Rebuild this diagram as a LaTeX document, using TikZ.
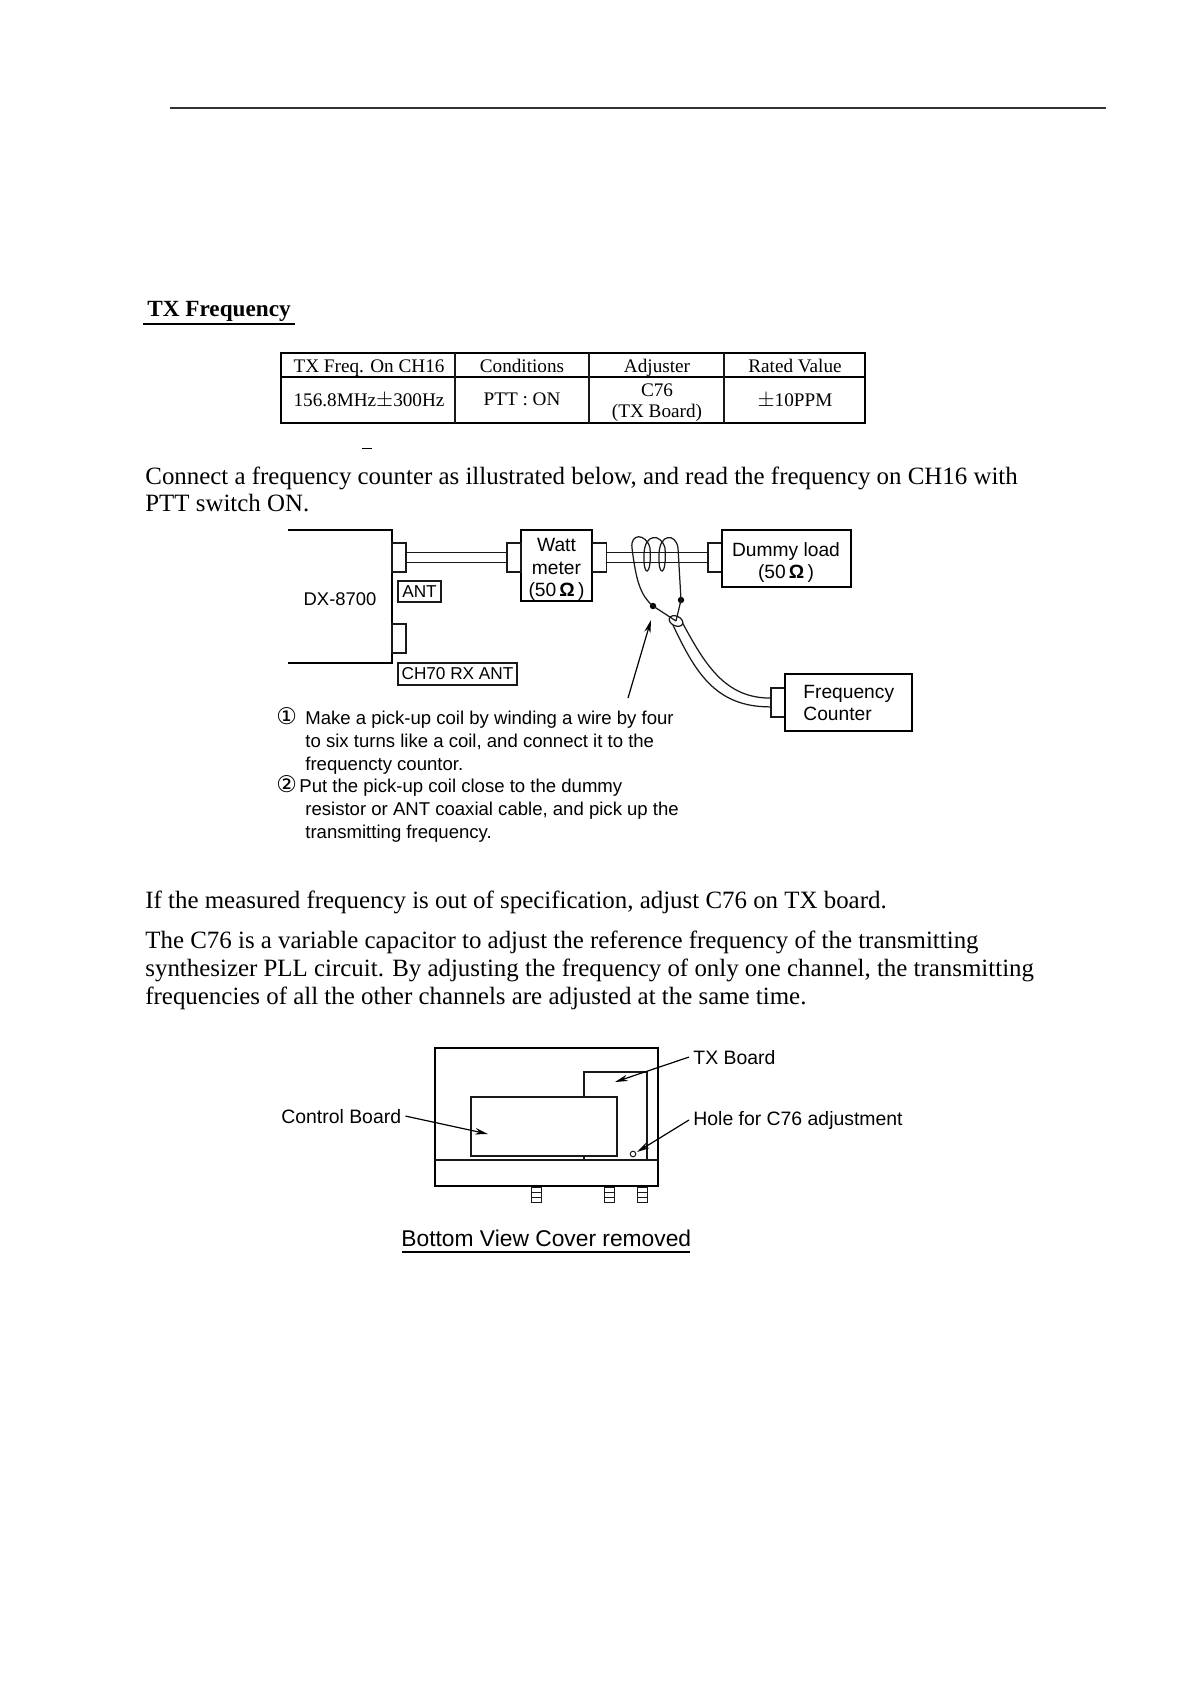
\documentclass[tikz,border=0pt]{standalone}
\usepackage{fontspec}
\setmainfont{Liberation Serif}
\newfontfamily\arialf{Liberation Sans}
\newfontfamily\symf{DejaVu Sans}
\usetikzlibrary{arrows.meta}
\newcommand{\fiftyohm}{(50\,{\bfseries Ω}\,)}
\tikzset{
  x=0.5pt,y=-0.5pt,
  ln/.style={draw=black!90,line width=0.62pt},
  heavy/.style={draw=black,line width=0.95pt},
  boxn/.style={draw=black,line width=0.95pt,inner sep=0pt},
  boxtext/.style={anchor=base,inner sep=0pt,font=\arialf\fontsize{9.6}{11.5}\selectfont},
  conn/.style={draw=black!90,line width=0.62pt,inner sep=0pt,minimum width=7pt,minimum height=14.5pt,fill=white},
  tag/.style={draw=black!90,line width=0.65pt,inner sep=0pt,font=\arialf\fontsize{8.6}{10}\selectfont},
  body/.style={anchor=base west,inner sep=0pt,font=\fontsize{12.45}{14}\selectfont},
  tcell/.style={anchor=base,inner sep=0pt,font=\fontsize{9.6}{11}\selectfont},
  note/.style={anchor=base west,inner sep=0pt,font=\arialf\fontsize{9.28}{11}\selectfont},
  num/.style={anchor=base west,inner sep=0pt,font=\symf\fontsize{11.5}{12}\selectfont},
  lab/.style={anchor=base west,inner sep=0pt,font=\arialf\fontsize{9.7}{11}\selectfont},
  pt/.style={circle,fill=black,inner sep=0pt,minimum size=3.2pt},
  arr/.style={draw=black,line width=0.6pt,-{Stealth[length=6.5pt,width=3.2pt]}},
}
\begin{document}
\begin{tikzpicture}
\useasboundingbox (0,0) rectangle (1190,1684);
\draw[line width=0.6pt,black!80] (170,108) -- (1106,108);
% heading
\node[body,font=\bfseries\fontsize{11.6}{14}\selectfont] (head) at (147,317) {TX Frequency};
\draw[line width=0.8pt] (143,324) -- (295,324);
% table
\draw[heavy] (281,353) rectangle (865,423);
\draw[heavy] (281,377) -- (865,377);
\draw[ln] (455,353) -- (455,423) (589,353) -- (589,423) (724,353) -- (724,423);
\node[tcell] (t1) at (369,373) {TX Freq. On CH16};
\node[tcell] (t2) at (522,373) {Conditions};
\node[tcell] (t3) at (657,373) {Adjuster};
\node[tcell] (t4) at (795,373) {Rated Value};
\node[tcell] (t5) at (369,407) {156.8MHz{\fontsize{10.5}{11}\selectfont $\pm$}300Hz};
\node[tcell] (t6) at (522,406) {PTT : ON};
\node[tcell] (t7) at (657,397) {C76};
\node[tcell] (t8) at (657,417) {(TX Board)};
\node[tcell] (t9) at (795,407) {{\fontsize{11}{11}\selectfont $\pm$}10PPM};
\draw[line width=0.5pt] (362,448) -- (372,448);
% paragraph 1
\node[body] (p1) at (145,484.5) {Connect a frequency counter as illustrated below, and read the frequency on CH16 with};
\node[body] (p2) at (145,511.5) {PTT switch ON.};
% device
\draw[heavy] (288,530) -- (392,530) -- (392,663) -- (288,663);
\node[anchor=center,inner sep=0pt,font=\arialf\fontsize{9.2}{11}\selectfont] (dx) at (340,599) {DX-8700};
\node[conn] (c1) at (399,557.5) {};
\node[conn] (c2) at (399,638.5) {};
\node[tag,minimum width=21.5pt,minimum height=10.5pt] (ant) at (419.5,591.5) {ANT};
\node[tag,minimum width=59.5pt,minimum height=11pt] (ch70) at (457.5,674) {CH70 RX ANT};
\node[boxn,minimum width=35.5pt,minimum height=35.5pt] (watt) at (556.5,565.5) {};
\node[boxtext] (w1) at (556.5,551) {Watt};
\node[boxtext] (w2) at (556.5,574) {meter};
\node[boxtext] (w3) at (556.5,596) {\fiftyohm};
\node[conn] (c3) at (514,557.5) {};
\node[conn] (c4) at (599.5,557.5) {};
\node[conn] (c5) at (715,557.5) {};
\node[boxn,minimum width=64.5pt,minimum height=28.5pt] (dummy) at (786.5,558.5) {};
\node[boxtext] (d1t) at (786,556) {Dummy load};
\node[boxtext] (d2t) at (786,578) {\fiftyohm};
\node[conn] (c6) at (778,702.5) {};
\node[boxn,minimum width=63.5pt,minimum height=28.5pt] (fc) at (848.5,702.5) {};
\node[boxtext,anchor=base west] (f1t) at (803,698) {Frequency};
\node[boxtext,anchor=base west] (f2t) at (803,720) {Counter};
% cables
\draw[ln] ([yshift=2.5pt]c1.east) -- ([yshift=2.5pt]c3.west);
\draw[ln] ([yshift=-2.5pt]c1.east) -- ([yshift=-2.5pt]c3.west);
\draw[ln] ([yshift=2.5pt]c4.east) -- ([yshift=2.5pt]c5.west);
\draw[ln] ([yshift=-2.5pt]c4.east) -- ([yshift=-2.5pt]c5.west);
% pick-up coil
\node[pt] (d1) at (653,606) {};
\node[pt] (d2) at (681,600) {};
\coordinate (ce) at (676,621);
\draw[ln] (672,623) .. controls (695,672) and (715,707) .. ([yshift=-2.2pt]c6.west);
\draw[ln] (681,620) .. controls (705,665) and (725,698) .. ([yshift=2.2pt]c6.west);
\draw[ln,fill=white] (ce) ellipse [x radius=3.6pt,y radius=2.4pt,rotate=-25];
\draw[ln] (ce) -- (d1.center) .. controls (640,595) and (636,580) .. (632,548)
  .. controls (630,533) and (646,533) .. (650,548)
  .. controls (652,577) and (643,578) .. (644,555)
  .. controls (644,533) and (661,533) .. (665,548)
  .. controls (667,577) and (658,578) .. (659,555)
  .. controls (659,533) and (676,533) .. (678,548)
  -- (d2.center) -- (ce);
\coordinate (atail) at (628,698);
\coordinate (ahead) at (651,620);
\draw[arr] (atail) -- (ahead);
% notes
\node[num] (n1) at (276,724) {①};
\node[note] (n1a) at (305,724) {Make a pick-up coil by winding a wire by four};
\node[note] (n1b) at (305,747) {to six turns like a coil, and connect it to the};
\node[note] (n1c) at (305,770) {frequencty countor.};
\node[num] (n2) at (276,792.5) {②};
\node[note] (n2a) at (299,792.5) {Put the pick-up coil close to the dummy};
\node[note] (n2b) at (305,815) {resistor or ANT coaxial cable, and pick up the};
\node[note] (n2c) at (305,838) {transmitting frequency.};
% paragraphs
\node[body] (p3) at (145,908) {If the measured frequency is out of specification, adjust C76 on TX board.};
\node[body] (p4) at (145,948) {The C76 is a variable capacitor to adjust the reference frequency of the transmitting};
\node[body] (p5) at (145,976) {synthesizer PLL circuit. By adjusting the frequency of only one channel, the transmitting};
\node[body] (p6) at (145,1004) {frequencies of all the other channels are adjusted at the same time.};
% bottom view
\draw[heavy] (435,1048) rectangle (658,1186);
\draw[ln] (435,1160) -- (658,1160);
\draw[ln,line width=0.7pt] (584,1097) -- (584,1072) -- (647,1072) -- (647,1160);
\draw[ln] (584,1156) -- (584,1160);
\node[draw=black!90,line width=0.7pt,inner sep=0pt,minimum width=73pt,minimum height=29.5pt] (cb) at (544,1126.5) {};
\node[circle,draw=black!90,line width=0.5pt,inner sep=0pt,minimum size=2.8pt] (hole) at (633,1154) {};
\foreach \lx in {536.5,609,642}{
  \draw[ln,line width=0.5pt] (\lx-5,1187) rectangle (\lx+5,1202);
  \draw[ln,line width=0.5pt] (\lx-5,1192) -- (\lx+5,1192) (\lx-5,1197) -- (\lx+5,1197);
}
\node[lab] (lcb) at (281,1123) {Control Board};
\node[lab] (ltx) at (693,1064) {TX Board};
\node[lab] (lhole) at (693,1125) {Hole for C76 adjustment};
\coordinate (acb) at (488,1134);
\coordinate (atx) at (615,1082);
\coordinate (ahl) at (637,1152);
\draw[arr] (lcb.east) ++(2pt,0) -- (acb);
\draw[arr] (ltx.west) ++(-2pt,0) -- (atx);
\draw[arr] (lhole.west) ++(-2pt,0) -- (ahl);
\node[anchor=base west,inner sep=0pt,font=\arialf\fontsize{11.4}{14}\selectfont] (bv) at (401,1246) {Bottom View Cover removed};
\draw[line width=0.7pt] (402,1252) -- (690,1252);
\end{tikzpicture}
\end{document}
